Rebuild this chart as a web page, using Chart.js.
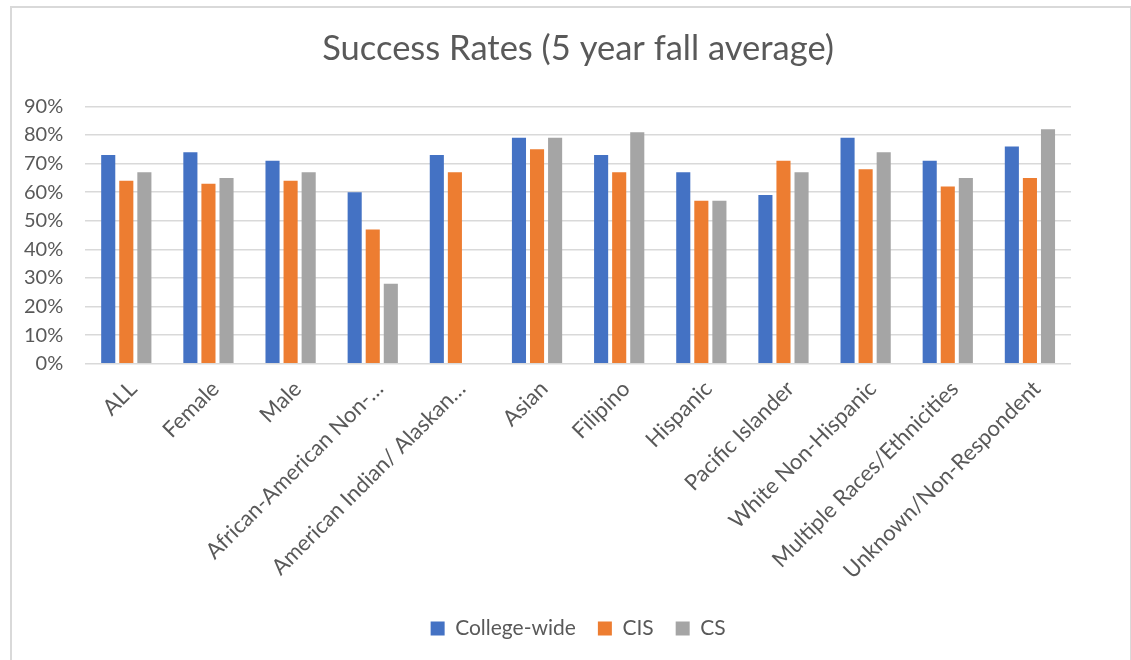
<!DOCTYPE html>
<html>
<head>
<meta charset="utf-8">
<script src="https://cdn.jsdelivr.net/npm/chart.js@4"></script>
<style>
  html, body { margin: 0; padding: 0; background: #fff; }
  #wrap { position: absolute; left: 10px; top: 6px; width: 1122px; height: 660px; border: 2px solid #d9d9d9; box-sizing: border-box; }
</style>
</head>
<body>
<div id="wrap"><canvas id="chart"></canvas></div>
<script>
const categories = ['ALL', 'Female', 'Male', 'African-American Non-…', 'American Indian/ Alaskan…',
  'Asian', 'Filipino', 'Hispanic', 'Pacific Islander', 'White Non-Hispanic',
  'Multiple Races/Ethnicities', 'Unknown/Non-Respondent'];
const collegeWide = [73, 74, 71, 60, 73, 79, 73, 67, 59, 79, 71, 76];
const cis = [64, 63, 64, 47, 67, 75, 67, 57, 71, 68, 62, 65];
const cs = [67, 65, 67, 28, null, 79, 81, 57, 67, 74, 65, 82];

const textColor = '#595959';
const font = 'Lato, "Liberation Sans", sans-serif';

const ctx = document.getElementById('chart').getContext('2d');
new Chart(ctx, {
  type: 'bar',
  data: {
    labels: categories,
    datasets: [
      {label: 'College-wide', data: collegeWide, backgroundColor: '#4472c4'},
      {label: 'CIS', data: cis, backgroundColor: '#ed7d31'},
      {label: 'CS', data: cs, backgroundColor: '#a5a5a5'}
    ]
  },
  options: {
    responsive: true,
    maintainAspectRatio: false,
    animation: false,
    categoryPercentage: 0.66,
    barPercentage: 0.78,
    layout: { padding: {left: -10, right: 59, top: 0, bottom: 15} },
    plugins: {
      title: {
        display: true,
        fullSize: false,
        text: 'Success Rates (5 year fall average)',
        color: textColor,
        font: {family: font, size: 34.5, weight: 'normal'},
        padding: {top: 20, bottom: 37}
      },
      legend: {
        position: 'bottom',
        fullSize: false,
        labels: {
          color: textColor,
          font: {family: font, size: 21},
          boxWidth: 14, boxHeight: 14,
          padding: 22
        }
      },
      tooltip: { enabled: false }
    },
    scales: {
      x: {
        grid: { display: false },
        border: { display: false },
        afterFit: scale => { scale.height += 8; },
        ticks: {
          color: textColor,
          font: {family: font, size: 22},
          minRotation: 45, maxRotation: 45,
          autoSkip: false,
          padding: 4,
          labelOffset: 7
        }
      },
      y: {
        min: 0, max: 90,
        grid: { color: '#d9d9d9', lineWidth: 1.5, drawTicks: false },
        border: { display: false },
        ticks: {
          stepSize: 10,
          color: textColor,
          font: {family: font, size: 20},
          padding: 22,
          callback: v => v + '%'
        }
      }
    }
  }
});
</script>
</body>
</html>
